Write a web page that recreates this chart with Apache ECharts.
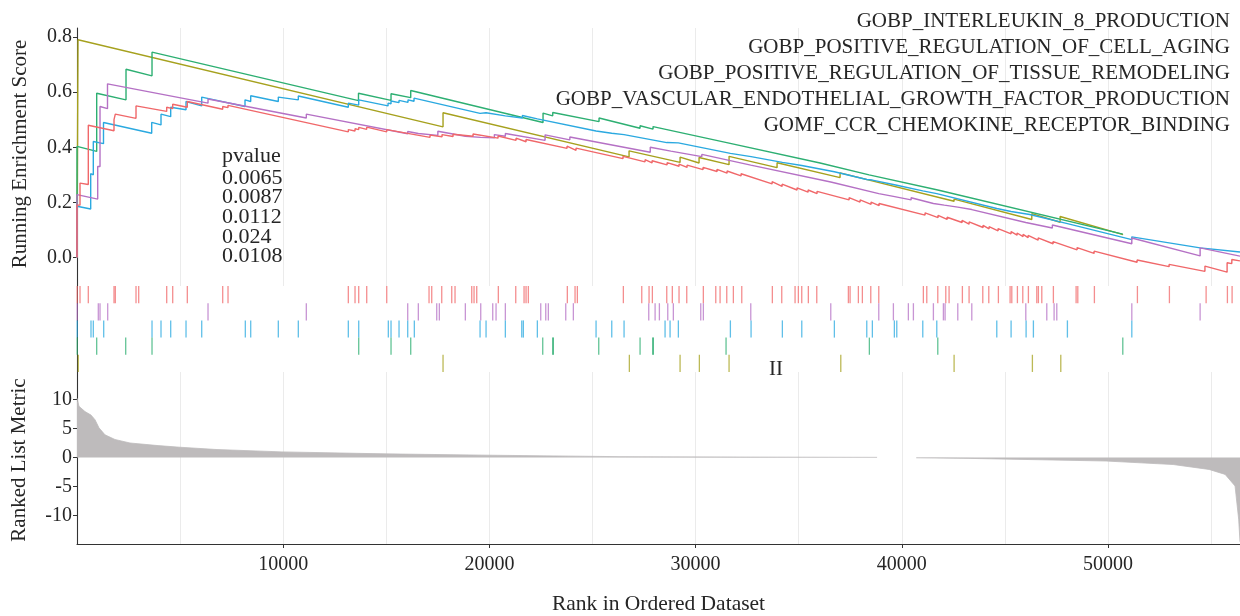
<!DOCTYPE html>
<html>
<head>
<meta charset="utf-8">
<script src="https://cdn.jsdelivr.net/npm/echarts@6/dist/echarts.min.js"></script>
<style>html,body{margin:0;padding:0;background:#fff}#c{width:1240px;height:616px}</style>
</head>
<body>
<div id="c"></div>
<script>
// ---------- data ----------
const setNames = [
  'GOBP_INTERLEUKIN_8_PRODUCTION',
  'GOBP_POSITIVE_REGULATION_OF_CELL_AGING',
  'GOBP_POSITIVE_REGULATION_OF_TISSUE_REMODELING',
  'GOBP_VASCULAR_ENDOTHELIAL_GROWTH_FACTOR_PRODUCTION',
  'GOMF_CCR_CHEMOKINE_RECEPTOR_BINDING'
];
const pvalues = ['0.0065', '0.0087', '0.0112', '0.024', '0.0108'];
const rankMax = 56400;

// running enrichment score, [rank, score]
const esRed = [[0,0],[0,0.19],[146,0.19],[146,0.27],[548,0.265],[548,0.48],[1795,0.46],[1795,0.50],[1858,0.50],[1858,0.52],[2862,0.505],[2862,0.55],[4350,0.53],[4350,0.545],[4641,0.54],[4641,0.556],[5350,0.545],[5350,0.566],[7066,0.538],[7066,0.548],[7324,0.544],[7324,0.552],[13158,0.456],[13158,0.464],[13483,0.459],[13483,0.467],[13662,0.464],[13662,0.472],[14050,0.465],[14050,0.473],[15020,0.456],[15020,0.464],[17121,0.436],[17121,0.444],[17703,0.438],[17703,0.446],[18236,0.439],[18236,0.447],[19206,0.440],[19206,0.448],[20419,0.433],[20419,0.441],[21292,0.425],[21292,0.433],[21777,0.420],[21777,0.428],[23765,0.396],[23765,0.404],[24202,0.389],[24202,0.397],[26481,0.359],[26481,0.367],[27548,0.347],[27548,0.355],[27888,0.343],[27888,0.351],[28615,0.336],[28615,0.344],[29197,0.331],[29197,0.339],[29585,0.327],[29585,0.335],[30361,0.319],[30361,0.327],[31040,0.312],[31040,0.320],[31525,0.306],[31525,0.314],[32204,0.296],[32204,0.304],[33708,0.267],[33708,0.275],[34193,0.258],[34193,0.266],[34920,0.245],[34920,0.253],[35454,0.237],[35454,0.245],[35890,0.232],[35890,0.240],[37442,0.209],[37442,0.217],[37976,0.201],[37976,0.209],[38509,0.193],[38509,0.201],[38897,0.188],[38897,0.196],[41128,0.154],[41128,0.162],[41759,0.145],[41759,0.153],[42195,0.138],[42195,0.146],[42923,0.127],[42923,0.135],[43262,0.121],[43262,0.129],[43941,0.109],[43941,0.117],[44232,0.104],[44232,0.112],[44669,0.097],[44669,0.105],[45299,0.086],[45299,0.094],[45590,0.081],[45590,0.089],[45881,0.076],[45881,0.084],[46124,0.072],[46124,0.080],[46609,0.063],[46609,0.071],[47336,0.050],[47336,0.058],[48500,0.028],[48500,0.036],[49325,0.015],[49325,0.023],[51410,-0.017],[51410,-0.009],[52962,-0.033],[52962,-0.025],[54700,-0.05],[54700,-0.031],[55775,-0.053],[55775,-0.019],[56003,-0.022],[56003,-0.007],[56400,-0.012]];
const esOlive = [[0,0],[49,0],[49,0.79],[17751,0.474],[17751,0.525],[26772,0.365],[26772,0.387],[29246,0.345],[29246,0.364],[30167,0.343],[30167,0.363],[31622,0.337],[31622,0.367],[33950,0.326],[33950,0.344],[37006,0.29],[37006,0.307],[42535,0.204],[42535,0.212],[46303,0.138],[46303,0.159],[47676,0.128],[47676,0.149],[50731,0.083]];
const esGreen = [[0,0],[0,0.403],[955,0.385],[955,0.596],[2377,0.572],[2377,0.683],[3638,0.659],[3638,0.745],[13650,0.569],[13650,0.596],[15229,0.57],[15229,0.594],[16184,0.58],[16184,0.606],[22601,0.49],[22601,0.524],[23071,0.514],[23071,0.526],[25317,0.493],[25317,0.506],[27306,0.469],[27306,0.478],[27936,0.466],[27936,0.475],[31510,0.417],[31510,0.421],[36036,0.343],[38412,0.30],[38412,0.305],[41744,0.245],[41744,0.25],[50716,0.085]];
const esBlue = [[0,0],[0,0.186],[664,0.176],[664,0.304],[791,0.30],[791,0.421],[1285,0.413],[1285,0.49],[3623,0.451],[3623,0.49],[4074,0.481],[4074,0.52],[4544,0.511],[4544,0.545],[5287,0.536],[5287,0.566],[6048,0.55],[6048,0.582],[8148,0.548],[8148,0.572],[8424,0.566],[8424,0.587],[9763,0.566],[9763,0.582],[10733,0.572],[10733,0.586],[13158,0.545],[13158,0.56],[13662,0.553],[13662,0.572],[15084,0.55],[15084,0.56],[15229,0.558],[15229,0.568],[15617,0.562],[15617,0.57],[16053,0.563],[16053,0.572],[16345,0.567],[16345,0.578],[19546,0.523],[19546,0.530],[19837,0.525],[19837,0.530],[20773,0.514],[20773,0.520],[21600,0.506],[21600,0.515],[22325,0.503],[22325,0.508],[25172,0.459],[25172,0.464],[25933,0.451],[25933,0.456],[26530,0.446],[26530,0.451],[28600,0.417],[28600,0.423],[29163,0.416],[29163,0.421],[31686,0.378],[31686,0.383],[32689,0.366],[32689,0.371],[34207,0.345],[34207,0.350],[35148,0.334],[35148,0.339],[36729,0.311],[36729,0.314],[38300,0.283],[38300,0.286],[38572,0.281],[38572,0.284],[39700,0.263],[39700,0.268],[41016,0.242],[41016,0.245],[41695,0.232],[41695,0.235],[44605,0.178],[44605,0.181],[45299,0.167],[45299,0.170],[46200,0.156],[46200,0.161],[48030,0.123],[48030,0.126],[51153,0.065],[51153,0.075],[54466,0.035],[56400,0.02]];
const esPurple = [[0,0],[0,0.228],[1004,0.212],[1004,0.33],[1116,0.33],[1116,0.548],[1479,0.54],[1479,0.63],[6354,0.56],[6354,0.575],[11121,0.506],[11121,0.52],[16038,0.449],[16038,0.457],[16553,0.450],[16553,0.456],[17500,0.443],[17500,0.458],[18833,0.440],[18833,0.447],[19579,0.436],[19579,0.443],[20240,0.434],[20240,0.446],[20773,0.440],[20773,0.450],[22700,0.425],[22700,0.445],[23900,0.427],[23900,0.437],[27800,0.382],[27800,0.400],[28800,0.386],[28800,0.392],[30300,0.366],[30300,0.374],[32674,0.335],[32674,0.339],[36554,0.274],[36554,0.278],[38882,0.232],[38882,0.236],[39591,0.222],[39591,0.226],[40450,0.209],[40450,0.217],[41531,0.196],[41531,0.200],[42060,0.190],[42060,0.196],[42714,0.183],[42714,0.187],[43393,0.174],[43393,0.178],[46012,0.127],[46012,0.132],[47300,0.107],[47300,0.118],[51153,0.05],[51153,0.071],[54466,0.006],[54466,0.035],[56400,0.005]];

// hit positions (ranks) for the rug rows
const hitsRed = [10,146,548,1795,1858,2862,2992,4350,4641,5350,7066,7324,13158,13483,13662,14050,15020,17072,17203,17688,18173,18333,19143,19255,19385,20433,21277,21680,21777,21888,23779,24153,24265,26496,27388,27742,27903,28600,28871,29196,29570,30375,30977,31186,31510,31831,32238,33721,34177,34823,34983,35147,35467,35875,37408,37491,37893,38087,38494,38882,41045,41210,41744,42132,42292,42937,43262,43926,44217,44683,45251,45333,45605,45866,46138,46545,46623,46788,47350,48452,48534,49339,51425,52977,54757,55789,56017];
const hitsPurple = [10,1033,1116,1489,6354,11121,16038,16553,17445,17572,18833,19579,20161,20322,20773,22489,22732,22858,23702,24071,27727,28035,28243,28649,28920,30249,30376,32674,36554,38882,39591,40318,40561,41531,42016,42098,42714,43393,46012,47030,47385,47515,51153,54466];
const hitsBlue = [10,679,791,1295,3638,4074,4544,5287,6048,8163,8424,9763,10733,13158,13662,15098,15229,15617,16038,16359,19546,19837,20773,21568,21646,22325,25172,25933,26530,28518,28761,29163,31686,32689,34207,35148,36729,38300,38572,39639,39755,41016,41695,44605,45299,46027,46381,48030,51153];
const hitsGreen = [10,955,2362,3638,13662,15229,16184,22586,23071,23100,25302,27306,27921,27950,31476,38426,41744,50716];
const hitsOlive = [63,17751,26787,29246,30182,31622,37040,42535,46332,47709];

// ranked list metric, [rank, metric]
const metric = [[0,10.2],[97,8.8],[388,7.9],[679,7.3],[873,6.5],[1067,5.1],[1358,3.9],[1843,3.1],[2570,2.5],[3929,2.05],[4996,1.77],[6790,1.37],[9943,0.97],[14938,0.63],[19934,0.4],[26336,0.15],[32640,0.08],[38800,0.03],[38850,'-'],[40650,'-'],[40700,-0.05],[43310,-0.15],[49905,-0.6],[53155,-1.2],[54900,-2.05],[55680,-2.9],[56160,-4.9],[56335,-10.6],[56400,-14.5]];

// ---------- style ----------
const FONT = 'Liberation Serif';
const TXT = '#262626';
const colRed = '#F0686A', colOlive = '#A6A11E', colGreen = '#2DAF72', colBlue = '#2BA9E0', colPurple = '#B571C5';
const GRIDC = '#EBEBEB';

const lineSets = [
  {d: esOlive, c: colOlive}, {d: esGreen, c: colGreen}, {d: esBlue, c: colBlue},
  {d: esPurple, c: colPurple}, {d: esRed, c: colRed}
];
const rugRows = [
  {h: hitsRed, c: colRed, row: 4}, {h: hitsPurple, c: colPurple, row: 3},
  {h: hitsBlue, c: colBlue, row: 2}, {h: hitsGreen, c: colGreen, row: 1},
  {h: hitsOlive, c: colOlive, row: 0}
];

function xAxisBase(gi, showLabels) {
  return {
    type: 'value', gridIndex: gi, min: 0, max: rankMax, interval: 10000,
    axisLine: {show: showLabels, onZero: false, lineStyle: {color: '#333', width: 1.1}},
    axisTick: {show: showLabels, length: 4, lineStyle: {color: '#333'}},
    axisLabel: {show: showLabels, showMinLabel: false, showMaxLabel: false, margin: 11,
      fontFamily: FONT, fontSize: 20, color: TXT, formatter: v => String(v)},
    splitLine: {show: true, showMinLine: false, showMaxLine: false, lineStyle: {color: GRIDC, width: 1}},
    minorTick: {show: false, splitNumber: 2},
    minorSplitLine: {show: true, lineStyle: {color: GRIDC, width: 1}}
  };
}

const series = [];
lineSets.forEach(s => series.push({
  type: 'line', xAxisIndex: 0, yAxisIndex: 0, data: s.d, showSymbol: false, symbol: 'none',
  lineStyle: {color: s.c, width: 1.4}, animation: false, z: 3
}));
series.push({
  type: 'custom', xAxisIndex: 1, yAxisIndex: 1, data: [[0, 0]], silent: true, z: 1,
  renderItem: (p, api) => {
    const a = api.coord([0, 5]), b = api.coord([rankMax, 0]);
    return {type: 'rect', shape: {x: a[0] + 1, y: a[1], width: b[0] - a[0], height: b[1] - a[1]}, style: {fill: '#fff'}};
  }
});
rugRows.forEach(r => series.push({
  type: 'custom', xAxisIndex: 1, yAxisIndex: 1, z: 3, silent: true,
  data: r.h.map(v => [v, r.row]),
  renderItem: (p, api) => {
    const a = api.coord([api.value(0), api.value(1)]);
    const b = api.coord([api.value(0), api.value(1) + 1]);
    return {type: 'line', shape: {x1: a[0], y1: a[1], x2: b[0], y2: b[1]},
      style: {stroke: r.c, lineWidth: 1.3, opacity: 0.75}};
  }
}));
series.push({
  type: 'line', xAxisIndex: 2, yAxisIndex: 2, data: metric, showSymbol: false, symbol: 'none',
  connectNulls: false, lineStyle: {color: '#BEBBBC', width: 0.8},
  areaStyle: {color: '#BEBBBC', opacity: 1, origin: 0}, animation: false
});

const option = {
  animation: false,
  grid: [
    {left: 77, right: 0, top: 28, height: 252},
    {left: 77, right: 0, top: 280, height: 96},
    {left: 77, right: 0, top: 376, height: 169}
  ],
  xAxis: [xAxisBase(0, false), xAxisBase(1, false),
    Object.assign(xAxisBase(2, true), {name: 'Rank in Ordered Dataset', nameLocation: 'middle', nameGap: 49,
      nameTextStyle: {fontFamily: FONT, fontSize: 21.5, color: TXT}})],
  yAxis: [
    {type: 'value', gridIndex: 0, min: -0.0815, max: 0.8326, minInterval: 0.2, maxInterval: 0.2,
      name: 'Running Enrichment Score', nameLocation: 'middle', nameGap: 46,
      nameTextStyle: {fontFamily: FONT, fontSize: 21, color: TXT},
      axisLine: {show: true, lineStyle: {color: '#333', width: 1.1}},
      axisTick: {show: true, length: 4, lineStyle: {color: '#333'}},
      axisLabel: {showMinLabel: false, showMaxLabel: false, margin: 5, fontFamily: FONT, fontSize: 20, color: TXT,
        formatter: v => v.toFixed(1)},
      splitLine: {show: false}},
    {type: 'value', gridIndex: 1, min: -0.235, max: 5.35,
      axisLine: {show: true, lineStyle: {color: '#333', width: 1.1}},
      axisTick: {show: false}, axisLabel: {show: false}, splitLine: {show: false}},
    {type: 'value', gridIndex: 2, min: -14.87, max: 14.02, minInterval: 5, maxInterval: 5,
      name: 'Ranked List Metric', nameLocation: 'middle', nameGap: 47,
      nameTextStyle: {fontFamily: FONT, fontSize: 21, color: TXT},
      axisLine: {show: true, lineStyle: {color: '#333', width: 1.1}},
      axisTick: {show: true, length: 4, lineStyle: {color: '#333'}},
      axisLabel: {showMinLabel: false, showMaxLabel: false, margin: 5, fontFamily: FONT, fontSize: 20, color: TXT},
      splitLine: {show: false}}
  ],
  series: series,
  graphic: [
    ...setNames.map((n, i) => ({type: 'text', x: 1230, y: 21 + i * 26.2, z: 10,
      style: {text: n, align: 'right', verticalAlign: 'middle', fontFamily: FONT, fontSize: 21, fill: TXT}})),
    {type: 'text', x: 222, y: 156, z: 10,
      style: {text: 'pvalue', align: 'left', verticalAlign: 'middle', fontFamily: FONT, fontSize: 22, fill: TXT}},
    ...pvalues.map((p, i) => ({type: 'text', x: 222, y: 178 + i * 19.6, z: 10,
      style: {text: p, align: 'left', verticalAlign: 'middle', fontFamily: FONT, fontSize: 22, fill: TXT}})),
    {type: 'text', x: 776, y: 369, z: 10,
      style: {text: 'II', align: 'center', verticalAlign: 'middle', fontFamily: FONT, fontSize: 21, fill: TXT}}
  ]
};
const chart = echarts.init(document.getElementById('c'), null, {renderer: 'canvas'});
chart.setOption(option);
</script>
</body>
</html>
